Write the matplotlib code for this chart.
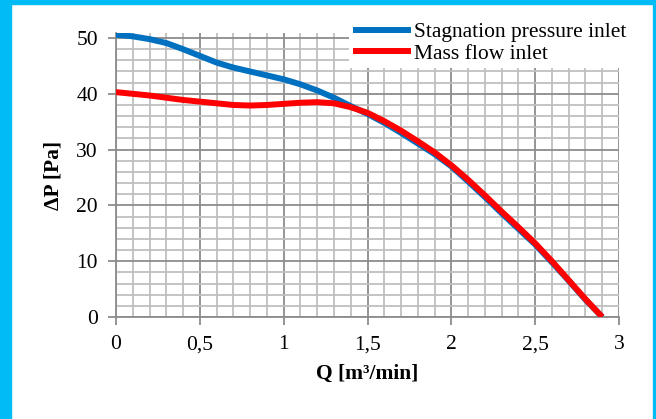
"""plot.py

Pressure drop against flow rate for two inlet boundary conditions."""

import matplotlib
matplotlib.use("Agg")
import matplotlib.pyplot as plt
from matplotlib.patches import Rectangle
from matplotlib.ticker import MultipleLocator, FuncFormatter

# Flow rate Q [m3/min]
q = [0, 0.1, 0.2, 0.3, 0.4, 0.5, 0.6, 0.7, 0.8, 0.9, 1.0, 1.1, 1.2, 1.3,
     1.4, 1.5, 1.6, 1.7, 1.8, 1.9, 2.0, 2.1, 2.2, 2.3, 2.4, 2.5, 2.6, 2.7,
     2.8, 2.9]

# Pressure drop dP [Pa]
stagnation = [50.6, 50.3, 49.8, 49.1, 48.0, 46.8, 45.6, 44.7, 44.0, 43.3,
              42.6, 41.7, 40.6, 39.3, 37.8, 36.4, 34.8, 33.0, 31.1, 29.2,
              27.0, 24.3, 21.5, 18.6, 15.8, 13.0, 9.8, 6.5, 3.1, 0.0]
mass_flow = [40.3, 40.0, 39.7, 39.3, 38.9, 38.6, 38.3, 38.0, 37.9, 38.0,
             38.2, 38.4, 38.5, 38.3, 37.6, 36.6, 35.1, 33.4, 31.5, 29.5,
             27.2, 24.6, 21.8, 18.9, 16.1, 13.2, 10.0, 6.6, 3.2, 0.0]

labels = ["Stagnation pressure inlet", "Mass flow inlet"]

plt.rcParams['font.family'] = ['Liberation Serif', 'DejaVu Serif']
plt.rcParams['font.size'] = 15.5

fig = plt.figure(figsize=(6.56, 4.19), dpi=100)

# Cyan frame on the left, top and right
cyan = '#00BBF5'
fig.patches.append(Rectangle((0, 0), 11/656, 1, transform=fig.transFigure,
                             color=cyan, zorder=0))
fig.patches.append(Rectangle((0, 1 - 4/419), 1, 4/419,
                             transform=fig.transFigure, color=cyan, zorder=0))
fig.patches.append(Rectangle((1 - 3/656, 0), 3/656, 1,
                             transform=fig.transFigure, color=cyan, zorder=0))

ax = fig.add_axes([116/656, 1 - 317/419, 503/656, 284/419])

ax.plot(q, stagnation, color='#0070C0', lw=4.3, label=labels[0],
        solid_capstyle='butt', zorder=3)
ax.plot(q, mass_flow, color='#FF0000', lw=4.3, label=labels[1],
        solid_capstyle='butt', zorder=4)

ax.set_xlim(0, 3)
ax.set_ylim(0, 50.9)

# Grid
ax.xaxis.set_major_locator(MultipleLocator(0.5))
ax.xaxis.set_minor_locator(MultipleLocator(0.1))
ax.yaxis.set_major_locator(MultipleLocator(10))
ax.yaxis.set_minor_locator(MultipleLocator(2))
ax.set_yticks([0, 10, 20, 30, 40, 50])
ax.grid(which='minor', color='#BFBFBF', lw=1.3)
ax.grid(which='major', color='#8C8C8C', lw=1.3)
ax.set_axisbelow(True)

ax.xaxis.set_major_formatter(FuncFormatter(
    lambda v, p: f"{v:g}".replace('.', ',')))

ax.tick_params(which='major', direction='out', length=6, width=1.3,
               color='#8C8C8C', pad=7)
ax.tick_params(which='minor', length=0)

for side in ['top', 'right']:
    ax.spines[side].set_visible(False)
for side in ['left', 'bottom']:
    ax.spines[side].set_color('#8C8C8C')
    ax.spines[side].set_linewidth(1.3)

ax.set_xlabel("Q [m³/min]", fontweight='bold', labelpad=7)
ax.set_ylabel("ΔP [Pa]", fontweight='bold', labelpad=9)

leg = ax.legend(loc='upper left', bbox_to_anchor=(349/656, 1 - 18/419),
                bbox_transform=fig.transFigure, frameon=True, fancybox=False,
                framealpha=1, edgecolor='none', facecolor='white',
                handlelength=2.7, handletextpad=0.1, borderpad=0.2,
                labelspacing=0.05, borderaxespad=0)
leg.set_zorder(10)

plt.savefig("out.png", dpi=100)
